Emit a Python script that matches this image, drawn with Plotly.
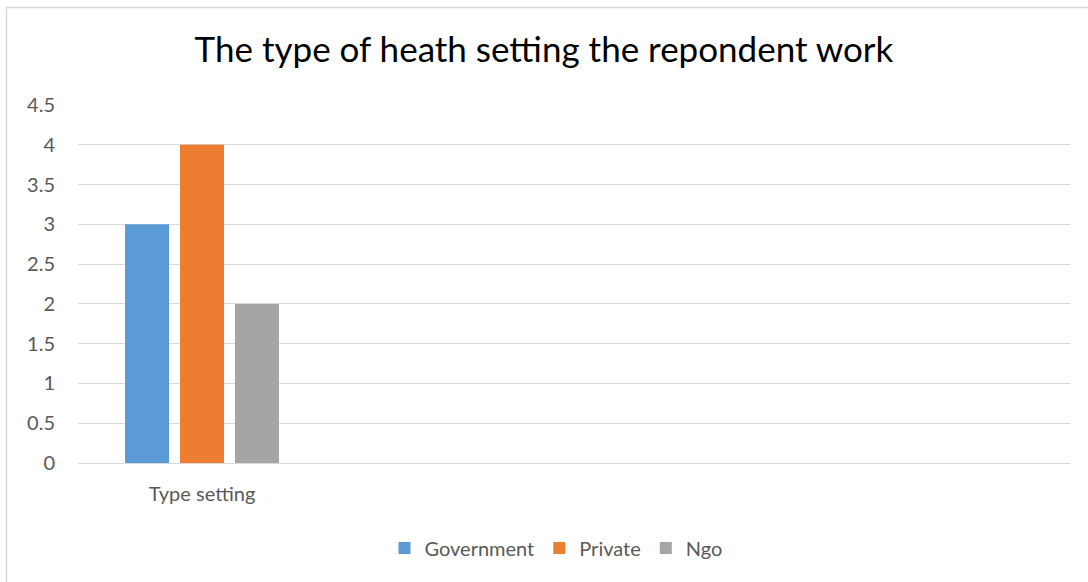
import plotly.graph_objects as go

categories = ["Type setting", " ", "  ", "   "]
series_names = ["Government", "Private", "Ngo"]
series_values = [[3, None, None, None], [4, None, None, None], [2, None, None, None]]
colors = ["#5B9BD5", "#ED7D31", "#A5A5A5"]
yticks = [0, 0.5, 1, 1.5, 2, 2.5, 3, 3.5, 4, 4.5]
title = "The type of heath setting the repondent work"

W, H = 1088, 582
L, R, T, B = 78, 18, 105, 119
pw, ph = W - L - R, H - T - B

fig = go.Figure()
for name, vals, c in zip(series_names, series_values, colors):
    fig.add_trace(go.Bar(x=categories, y=vals, name=name, marker=dict(color=c, line=dict(width=0))))

def px2x(p):
    return (p - L) / pw

def py2y(p):
    return (H - B - p) / ph

fig.add_shape(type="rect", xref="paper", yref="paper",
              x0=px2x(6.5), x1=px2x(1100), y0=py2y(7.5), y1=py2y(600),
              line=dict(color="#D9D9D9", width=1.5), fillcolor="rgba(0,0,0,0)", layer="below")

fig.update_layout(
    width=W, height=H,
    margin=dict(l=L, r=R, t=T, b=B, autoexpand=False),
    paper_bgcolor="white", plot_bgcolor="white",
    barmode="group", bargap=0.335, bargroupgap=0.2,
    font=dict(family="Lato", color="#595959", size=20),
    title=dict(text=title, x=0.5, xanchor="center", y=1 - 50 / H, yanchor="middle",
               font=dict(family="Lato", size=35, color="#000000")),
    showlegend=True,
    legend=dict(orientation="h", x=px2x(556), xanchor="center", y=py2y(548), yanchor="middle",
                font=dict(size=20, color="#595959"), itemwidth=30, traceorder="normal"),
    xaxis=dict(type="category", categoryorder="array", categoryarray=categories,
               showgrid=False, showline=False, ticks="", ticklabelstandoff=17,
               tickfont=dict(size=20, color="#595959")),
    yaxis=dict(range=[0, 4.5], tickvals=yticks, ticktext=[f"{v:g}" for v in yticks],
               showgrid=True, gridcolor="#D9D9D9", gridwidth=1.3, zeroline=True,
               zerolinecolor="#D9D9D9", zerolinewidth=1.3, showline=False, ticks="",
               ticklabelstandoff=22, tickfont=dict(size=20, color="#595959")),
)

fig.write_html("out.html", config={"displayModeBar": False},
               post_script="document.body.style.margin='0';")
